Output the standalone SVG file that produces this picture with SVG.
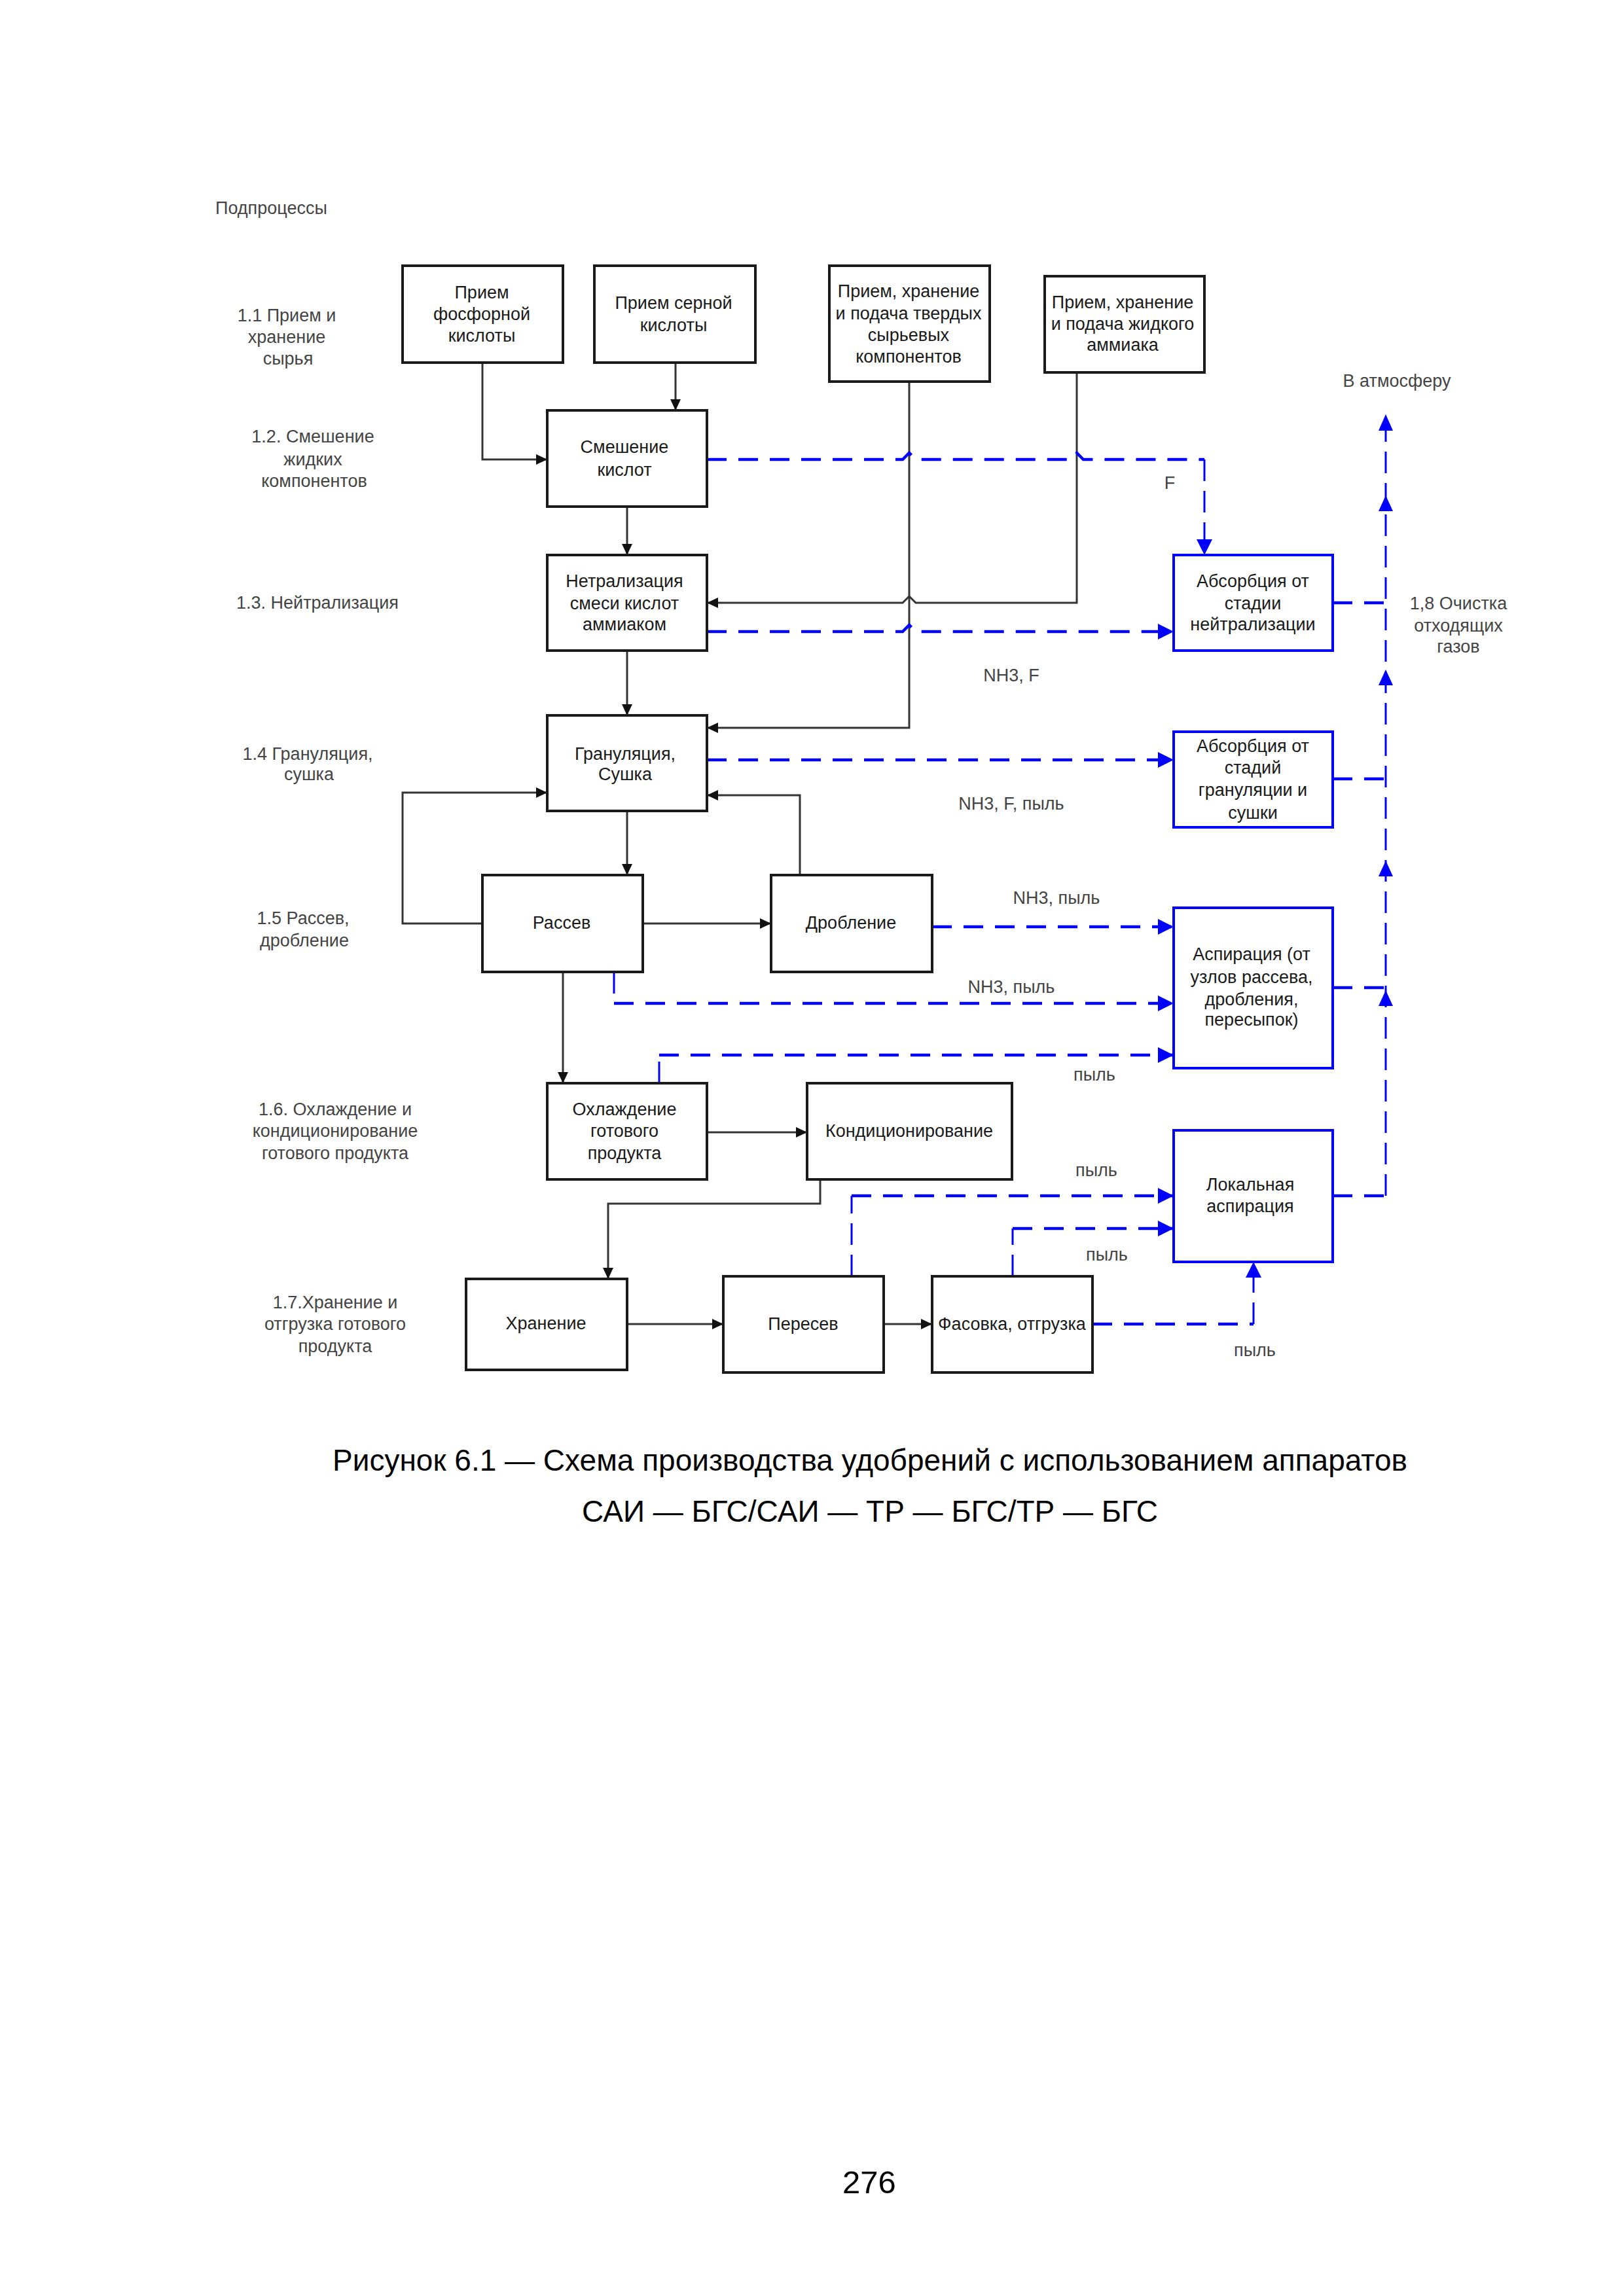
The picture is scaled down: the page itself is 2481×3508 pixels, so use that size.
<svg xmlns="http://www.w3.org/2000/svg" width="2481" height="3508" viewBox="0 0 2481 3508">
<defs>
<style>
.box{fill:#fff;stroke:#1a1a1a;stroke-width:4}
.bbox{fill:#fff;stroke:#0000ff;stroke-width:4}
.t{font-family:"Liberation Sans",Arial,sans-serif;font-size:27px;fill:#1a1a1a;text-anchor:middle}
.lbl{font-family:"Liberation Sans",Arial,sans-serif;font-size:27px;fill:#444;text-anchor:middle}
.ln{fill:none;stroke:#333;stroke-width:3}
.dh{fill:none;stroke:#0000ff;stroke-width:4.5;stroke-dasharray:30 18}
.dv{fill:none;stroke:#0000ff;stroke-width:3;stroke-dasharray:33 15}
.ah{fill:#0000ff}
.cap{font-family:"Liberation Sans",Arial,sans-serif;font-size:46px;fill:#000;text-anchor:middle}
</style>
<marker id="ak" markerUnits="userSpaceOnUse" markerWidth="18" markerHeight="16" refX="17" refY="8" orient="auto"><path d="M0,0 L17,8 L0,16 z" fill="#111"/></marker>
<marker id="ab" markerUnits="userSpaceOnUse" markerWidth="24" markerHeight="24" refX="24" refY="12" orient="auto"><path d="M0,0 L24,12 L0,24 z" fill="#0000ff"/></marker>
</defs>
<rect width="2481" height="3508" fill="#fff"/>

<g id="subprocess-labels">
<text class="lbl" x="329" y="327" style="text-anchor:start">Подпроцессы</text>
<text class="lbl" x="438" y="491">1.1 Прием и</text>
<text class="lbl" x="438" y="524">хранение</text>
<text class="lbl" x="440" y="557">сырья</text>
<text class="lbl" x="478" y="676">1.2. Смешение</text>
<text class="lbl" x="478" y="711">жидких</text>
<text class="lbl" x="480" y="744">компонентов</text>
<text class="lbl" x="485" y="930">1.3. Нейтрализация</text>
<text class="lbl" x="470" y="1161">1.4 Грануляция,</text>
<text class="lbl" x="472" y="1192">сушка</text>
<text class="lbl" x="463" y="1412">1.5 Рассев,</text>
<text class="lbl" x="465" y="1446">дробление</text>
<text class="lbl" x="512" y="1704">1.6. Охлаждение и</text>
<text class="lbl" x="512" y="1737">кондиционирование</text>
<text class="lbl" x="512" y="1771">готового продукта</text>
<text class="lbl" x="512" y="1999">1.7.Хранение и</text>
<text class="lbl" x="512" y="2032">отгрузка готового</text>
<text class="lbl" x="512" y="2066">продукта</text>
<text class="lbl" x="2134" y="591">В атмосферу</text>
<text class="lbl" x="2228" y="931">1,8 Очистка</text>
<text class="lbl" x="2228" y="965">отходящих</text>
<text class="lbl" x="2228" y="997">газов</text>
</g>

<g id="connectors">
<path class="ln" d="M737,554 V702 H836" marker-end="url(#ak)"/>
<path class="ln" d="M1032,554 V627" marker-end="url(#ak)"/>
<path class="ln" d="M958,774 V848" marker-end="url(#ak)"/>
<path class="ln" d="M1645,569 V921 H1399 L1389,911 L1379,921 H1080" marker-end="url(#ak)"/>
<path class="ln" d="M1389,583 V1112 H1080" marker-end="url(#ak)"/>
<path class="ln" d="M958,994 V1093" marker-end="url(#ak)"/>
<path class="ln" d="M958,1239 V1337" marker-end="url(#ak)"/>
<path class="ln" d="M737,1411 H615 V1211 H836" marker-end="url(#ak)"/>
<path class="ln" d="M982,1411 H1178" marker-end="url(#ak)"/>
<path class="ln" d="M1222,1337 V1215 H1080" marker-end="url(#ak)"/>
<path class="ln" d="M860,1485 V1655" marker-end="url(#ak)"/>
<path class="ln" d="M1080,1730 H1233" marker-end="url(#ak)"/>
<path class="ln" d="M1253,1802 V1839 H929 V1954" marker-end="url(#ak)"/>
<path class="ln" d="M958,2023 H1105" marker-end="url(#ak)"/>
<path class="ln" d="M1350,2023 H1424" marker-end="url(#ak)"/>

<path class="dh" d="M1080,702 H1379 L1389,692 L1399,702 H1635 L1645,692 L1655,702 H1840"/>
<path class="dv" d="M1840,702 V848" marker-end="url(#ab)"/>
<path class="dh" d="M1080,965 H1379 L1389,955 L1399,965 H1793" marker-end="url(#ab)"/>
<path class="dh" d="M1080,1161 H1793" marker-end="url(#ab)"/>
<path class="dh" d="M1424,1416 H1793" marker-end="url(#ab)"/>
<path class="dv" d="M938,1485 V1533"/>
<path class="dh" d="M938,1533 H1793" marker-end="url(#ab)"/>
<path class="dv" d="M1007,1655 V1612"/>
<path class="dh" d="M1007,1612 H1793" marker-end="url(#ab)"/>
<path class="dv" d="M1301,1950 V1827"/>
<path class="dh" d="M1301,1827 H1793" marker-end="url(#ab)"/>
<path class="dv" d="M1547,1950 V1877"/>
<path class="dh" d="M1547,1877 H1793" marker-end="url(#ab)"/>
<path class="dh" d="M1669,2023 H1915"/>
<path class="dv" d="M1915,2023 V1928" marker-end="url(#ab)"/>
<path class="dh" d="M2036,921 H2117"/>
<path class="dh" d="M2036,1190 H2117"/>
<path class="dh" d="M2036,1509 H2117"/>
<path class="dh" d="M2036,1827 H2117"/>
<path class="dv" d="M2117,1827 V645"/>
<polygon class="ah" points="2117,633 2106,658 2128,658"/>
<polygon class="ah" points="2117,757 2106,781 2128,781"/>
<polygon class="ah" points="2117,1023 2106,1047 2128,1047"/>
<polygon class="ah" points="2117,1315 2106,1339 2128,1339"/>
<polygon class="ah" points="2117,1513 2106,1537 2128,1537"/>

<text class="lbl" x="1787" y="747">F</text>
<text class="lbl" x="1545" y="1041">NH3, F</text>
<text class="lbl" x="1545" y="1237">NH3, F, пыль</text>
<text class="lbl" x="1614" y="1381">NH3, пыль</text>
<text class="lbl" x="1545" y="1517">NH3, пыль</text>
<text class="lbl" x="1672" y="1651">пыль</text>
<text class="lbl" x="1675" y="1797">пыль</text>
<text class="lbl" x="1691" y="1926">пыль</text>
<text class="lbl" x="1917" y="2072">пыль</text>
</g>

<g id="n-phosphoric">
<rect class="box" x="615" y="406" width="245" height="148"/>
<text class="t" x="736" y="456">Прием</text>
<text class="t" x="736" y="489">фосфорной</text>
<text class="t" x="736" y="522">кислоты</text>
</g>
<g id="n-sulfuric">
<rect class="box" x="908" y="406" width="246" height="148"/>
<text class="t" x="1029" y="472">Прием серной</text>
<text class="t" x="1029" y="506">кислоты</text>
</g>
<g id="n-solid">
<rect class="box" x="1267" y="406" width="245" height="177"/>
<text class="t" x="1388" y="454">Прием, хранение</text>
<text class="t" x="1388" y="488">и подача твердых</text>
<text class="t" x="1388" y="521">сырьевых</text>
<text class="t" x="1388" y="554">компонентов</text>
</g>
<g id="n-ammonia">
<rect class="box" x="1596" y="422" width="244" height="147"/>
<text class="t" x="1715" y="471">Прием, хранение</text>
<text class="t" x="1715" y="504">и подача жидкого</text>
<text class="t" x="1715" y="536">аммиака</text>
</g>
<g id="n-mixing">
<rect class="box" x="836" y="627" width="244" height="147"/>
<text class="t" x="954" y="692">Смешение</text>
<text class="t" x="954" y="727">кислот</text>
</g>
<g id="n-neutral">
<rect class="box" x="836" y="848" width="244" height="146"/>
<text class="t" x="954" y="897">Нетрализация</text>
<text class="t" x="954" y="931">смеси кислот</text>
<text class="t" x="954" y="963">аммиаком</text>
</g>
<g id="n-granul">
<rect class="box" x="836" y="1093" width="244" height="146"/>
<text class="t" x="955" y="1161">Грануляция,</text>
<text class="t" x="955" y="1192">Сушка</text>
</g>
<g id="n-sieve">
<rect class="box" x="737" y="1337" width="245" height="148"/>
<text class="t" x="858" y="1419">Рассев</text>
</g>
<g id="n-crush">
<rect class="box" x="1178" y="1337" width="246" height="148"/>
<text class="t" x="1300" y="1419">Дробление</text>
</g>
<g id="n-cooling">
<rect class="box" x="836" y="1655" width="244" height="147"/>
<text class="t" x="954" y="1704">Охлаждение</text>
<text class="t" x="954" y="1737">готового</text>
<text class="t" x="954" y="1771">продукта</text>
</g>
<g id="n-condition">
<rect class="box" x="1233" y="1655" width="313" height="147"/>
<text class="t" x="1389" y="1737">Кондиционирование</text>
</g>
<g id="n-storage">
<rect class="box" x="712" y="1954" width="246" height="139"/>
<text class="t" x="834" y="2031">Хранение</text>
</g>
<g id="n-resieve">
<rect class="box" x="1105" y="1950" width="245" height="147"/>
<text class="t" x="1227" y="2032">Пересев</text>
</g>
<g id="n-packing">
<rect class="box" x="1424" y="1950" width="245" height="147"/>
<text class="t" x="1546" y="2032">Фасовка, отгрузка</text>
</g>
<g id="n-abs-neutral">
<rect class="bbox" x="1793" y="848" width="243" height="146"/>
<text class="t" x="1914" y="897">Абсорбция от</text>
<text class="t" x="1914" y="931">стадии</text>
<text class="t" x="1914" y="963">нейтрализации</text>
</g>
<g id="n-abs-granul">
<rect class="bbox" x="1793" y="1118" width="243" height="146"/>
<text class="t" x="1914" y="1149">Абсорбция от</text>
<text class="t" x="1914" y="1182">стадий</text>
<text class="t" x="1914" y="1216">грануляции и</text>
<text class="t" x="1914" y="1251">сушки</text>
</g>
<g id="n-aspiration">
<rect class="bbox" x="1793" y="1387" width="243" height="245"/>
<text class="t" x="1912" y="1467">Аспирация (от</text>
<text class="t" x="1912" y="1502">узлов рассева,</text>
<text class="t" x="1912" y="1536">дробления,</text>
<text class="t" x="1912" y="1567">пересыпок)</text>
</g>
<g id="n-local-asp">
<rect class="bbox" x="1793" y="1727" width="243" height="201"/>
<text class="t" x="1910" y="1819">Локальная</text>
<text class="t" x="1910" y="1852">аспирация</text>
</g>

<g id="caption">
<text class="cap" x="1329" y="2247">Рисунок 6.1 — Схема производства удобрений с использованием аппаратов</text>
<text class="cap" x="1329" y="2325">САИ — БГС/САИ — ТР — БГС/ТР — БГС</text>
<text class="cap" x="1328" y="3351" style="font-size:49px">276</text>
</g>
</svg>
